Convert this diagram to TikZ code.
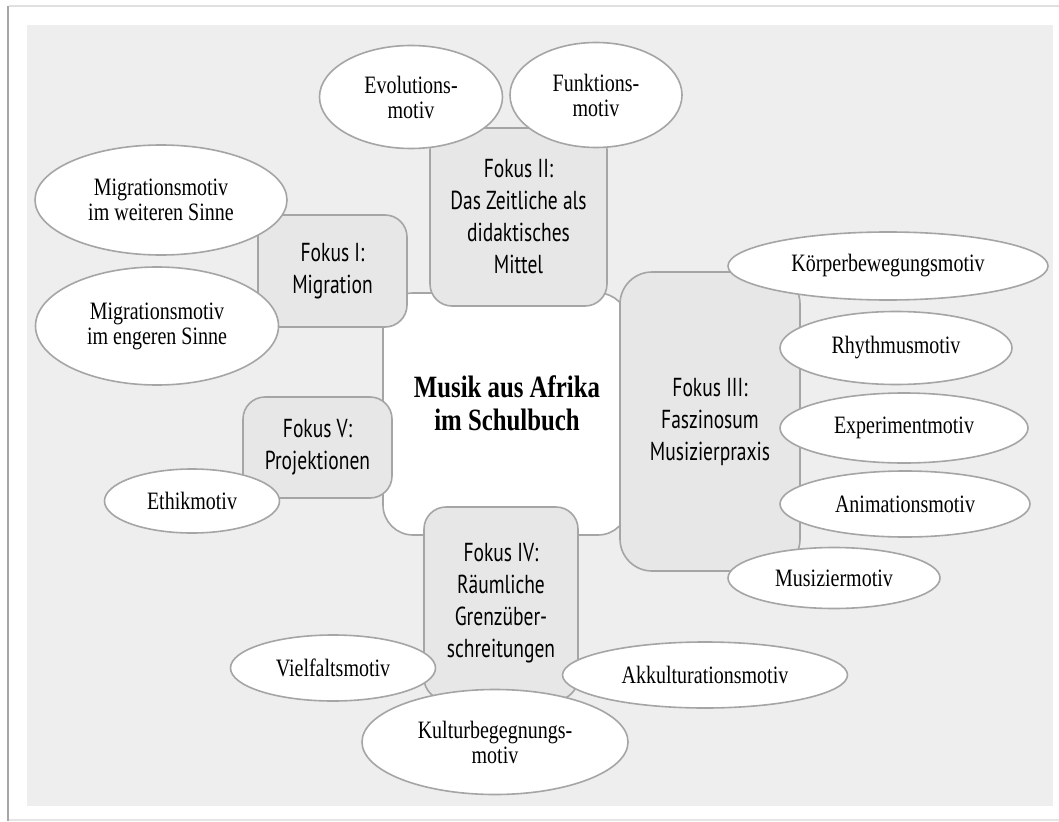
\documentclass[tikz,border=0pt]{standalone}
\usepackage{fontspec}
\usepackage{tikz}
\usetikzlibrary{shapes.geometric, positioning}
\newfontfamily\motivfont[FakeStretch=0.8]{Liberation Serif}
\newfontfamily\fokusfont[FakeStretch=0.75]{PT Sans}
\definecolor{panelgray}{RGB}{238,238,238}
\definecolor{boxgray}{RGB}{231,231,231}
\definecolor{edgegray}{RGB}{165,165,165}

\begin{document}
\begin{tikzpicture}[x=1pt, y=-1pt,
  kern/.style={draw=edgegray, line width=1.6pt, fill=white, rounded corners=30pt,
               inner sep=0pt},
  titel/.style={align=center, font=\motivfont\bfseries\fontsize{31}{33}\selectfont},
  fokus/.style={draw=edgegray, line width=1.6pt, fill=boxgray, rounded corners=22pt,
                align=center, inner sep=0pt, font=\fokusfont\fontsize{26}{32}\selectfont},
  motiv/.style={ellipse, draw=edgegray, line width=1.6pt, fill=white, align=center,
                inner sep=0pt, font=\motivfont\fontsize{25}{25}\selectfont}
]
  \useasboundingbox (0,0) rectangle (1059,821);

  % page and panel
  \fill[white] (0,0) rectangle (1059,821);
  \draw[black!12, line width=2pt] (9,6) -- (1059,6);
  \draw[black!10, line width=1.5pt] (9,820) -- (1059,820);
  \draw[black!35, line width=2.5pt] (8,6) -- (8,821);
  \fill[panelgray] (27,25) rectangle (1053,806);

  % centre
  \node[kern, minimum width=245pt, minimum height=242pt] (kern) at (505.5,414) {};
  \node[titel] (titel) at ([xshift=1.5pt, yshift=11pt]kern.center)
       {Musik aus Afrika\\im Schulbuch};

  % Fokus boxes
  \node[fokus, minimum width=149pt, minimum height=112pt] (fokusI) at (332.5,271)
       {Fokus I:\\Migration};
  \node[fokus, minimum width=177pt, minimum height=178pt] (fokusII) at (518.5,217)
       {Fokus II:\\Das Zeitliche als\\didaktisches\\Mittel};
  \node[fokus, rounded corners=32pt, minimum width=180pt, minimum height=299pt] (fokusIII)
       at (710,421.5) {Fokus III:\\Faszinosum\\Musizierpraxis};
  \node[fokus, minimum width=154pt, minimum height=193pt] (fokusIV) at (501,603.5)
       {Fokus IV:\\Räumliche\\Grenzüber-\\schreitungen};
  \node[fokus, minimum width=149pt, minimum height=101pt] (fokusV) at (317.5,447.5)
       {Fokus V:\\Projektionen};

  % Motive
  \node[motiv, minimum width=183pt, minimum height=103pt] (evolution) at (411,97)
       {Evolutions-\\motiv};
  \node[motiv, minimum width=172pt, minimum height=105pt] (funktion) at (596,95)
       {Funktions-\\motiv};
  \node[motiv, minimum width=252pt, minimum height=110pt] (migweit) at (161,200)
       {Migrationsmotiv\\im weiteren Sinne};
  \node[motiv, minimum width=243pt, minimum height=118pt] (migeng) at (157,326)
       {Migrationsmotiv\\im engeren Sinne};
  \node[motiv, minimum width=175pt, minimum height=64pt] (ethik) at (192,501)
       {Ethikmotiv};
  \node[motiv, minimum width=320pt, minimum height=68pt] (koerper) at (888,266)
       {Körperbewegungsmotiv};
  \node[motiv, minimum width=232pt, minimum height=73pt] (rhythmus) at (896,348)
       {Rhythmusmotiv};
  \node[motiv, minimum width=248pt, minimum height=70pt] (experiment) at (904,428)
       {Experimentmotiv};
  \node[motiv, minimum width=250pt, minimum height=66pt] (animation) at (905,504)
       {Animationsmotiv};
  \node[motiv, minimum width=212pt, minimum height=61pt] (musizier) at (834,578)
       {Musiziermotiv};
  \node[motiv, minimum width=205pt, minimum height=66pt] (vielfalt) at (333,668)
       {Vielfaltsmotiv};
  \node[motiv, minimum width=285pt, minimum height=66pt] (akkult) at (705,675)
       {Akkulturationsmotiv};
  \node[motiv, minimum width=266pt, minimum height=105pt] (kultur) at (495,742)
       {Kulturbegegnungs-\\motiv};
\end{tikzpicture}
\end{document}
